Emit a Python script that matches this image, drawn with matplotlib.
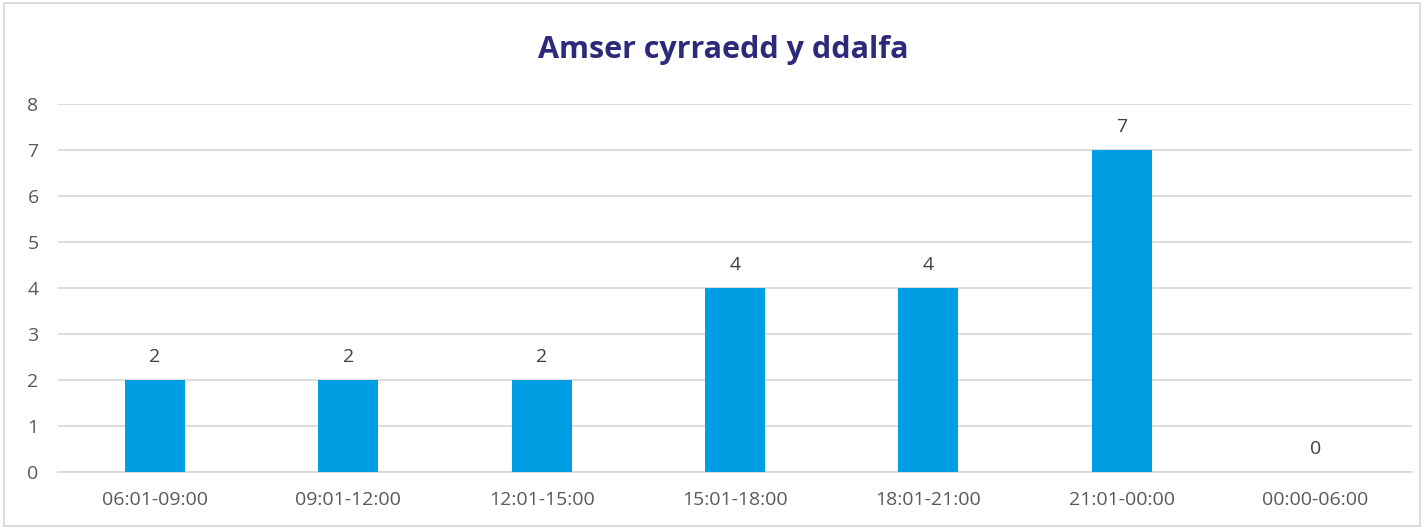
import matplotlib
matplotlib.use("Agg")
import matplotlib.pyplot as plt
from matplotlib.patches import Rectangle

# data
categories = ["06:01-09:00", "09:01-12:00", "12:01-15:00", "15:01-18:00",
              "18:01-21:00", "21:01-00:00", "00:00-06:00"]
counts = [2, 2, 2, 4, 4, 7, 0]
title = "Amser cyrraedd y ddalfa"

plt.rcParams['font.family'] = ['Open Sans', 'DejaVu Sans']

fig = plt.figure(figsize=(14.24, 5.29), dpi=100)
ax = fig.add_axes([58/1424, 1 - 472/529, (1412 - 58)/1424, (472 - 104)/529])

x = range(len(categories))
ax.bar(x, counts, width=0.31, color="#009FE3", zorder=3)
for xi, v in zip(x, counts):
    ax.text(xi, v + 0.3, str(v), ha="center", va="bottom", fontsize=14, color="#404040")

ax.set_xlim(-0.5, len(categories) - 0.5)
ax.set_ylim(0, 8)
ax.set_yticks(range(0, 9))
ax.set_xticks(list(x))
ax.set_xticklabels(categories)
ax.tick_params(axis="both", length=0, labelsize=14, labelcolor="#595959")
ax.tick_params(axis="x", pad=14)
ax.tick_params(axis="y", pad=22)
for lab in ax.get_yticklabels():
    lab.set_horizontalalignment("left")
ax.grid(axis="y", color="#D9D9D9", linewidth=1.3, zorder=0)
for s in ["top", "right", "left"]:
    ax.spines[s].set_visible(False)
ax.spines["bottom"].set_color("#D9D9D9")
ax.spines["bottom"].set_linewidth(1.3)

fig.text(723/1424, 1 - 50/529, title, ha="center", va="center", fontsize=22,
         fontweight="bold", color="#2E2A7B")

fig.patches.append(Rectangle((4/1424, 3/529), 1 - 8/1424, 1 - 6/529, transform=fig.transFigure,
                             fill=False, edgecolor="#D9D9D9", linewidth=1.3))

fig.savefig("out.png", dpi=100)
